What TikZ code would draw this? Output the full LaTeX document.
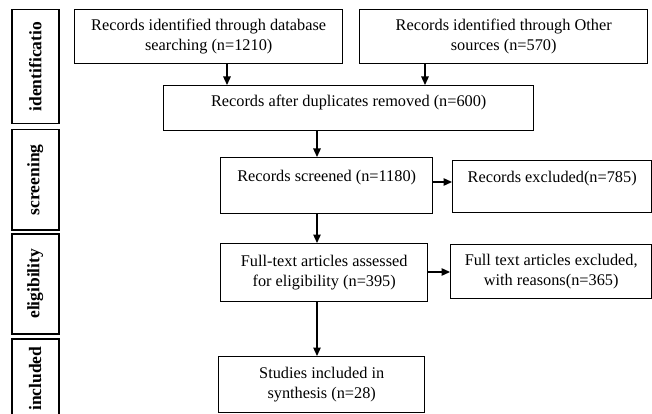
\documentclass[tikz,border=0pt]{standalone}
\usepackage{fontspec}
\setmainfont{Liberation Serif}
\usetikzlibrary{arrows.meta}
\begin{document}
\begin{tikzpicture}[x=1pt,y=-1pt,
  box/.style={draw, line width=1.4pt, inner sep=0pt, anchor=north west, align=center,
    font=\fontsize{16.3}{20}\selectfont},
  phase/.style={draw, line width=1.5pt, inner sep=0pt, anchor=north west,
    minimum width=47pt, font=\bfseries\fontsize{17.5}{20}\selectfont},
  arr/.style={line width=1.3pt, -{Triangle[length=8.5pt,width=7.5pt]}}]
\useasboundingbox (0,0) rectangle (652,414);
% phase labels
\node[phase, minimum height=114pt] (pid) at (11,9) {\rotatebox{90}{identificatio}};
\node[phase, minimum height=100pt] (pscr) at (11,129) {\rotatebox{90}{screening}};
\node[phase, minimum height=100pt] (pel) at (11,233) {\rotatebox{90}{eligibility}};
\node[phase, minimum height=80pt] (pinc) at (11,338) {\rotatebox{90}{included}};
% boxes
\node[box, minimum width=268pt, minimum height=54pt] (db) at (74,9)
  {Records identified through database\\searching (n=1210)};
\node[box, minimum width=288pt, minimum height=54pt] (oth) at (359,9)
  {Records identified through Other\\sources (n=570)};
\node[box, minimum width=370pt, text height=20.5pt, text depth=24.5pt] (dup) at (163,85)
  {Records after duplicates removed (n=600)};
\node[box, minimum width=212pt, text height=23.5pt, text depth=32.5pt] (scr) at (220,157)
  {Records screened (n=1180)};
\node[box, minimum width=199pt, text height=21.5pt, text depth=30.5pt] (exc) at (452,160)
  {Records excluded(n=785)};
\node[box, minimum width=207pt, minimum height=58pt] (ass) at (220,243)
  {Full-text articles assessed\\for eligibility (n=395)};
\node[box, minimum width=201pt, minimum height=54pt] (ftx) at (450,244)
  {Full text articles excluded,\\with reasons(n=365)};
\node[box, minimum width=206pt, minimum height=56pt] (stu) at (218,356)
  {Studies included in\\synthesis (n=28)};
% connector guides
\coordinate (xa) at (227,0);
\coordinate (xb) at (425,0);
\coordinate (xc) at (317,0);
\coordinate (ya) at (0,182);
\coordinate (yb) at (0,272);
% connectors
\draw[arr] (db.south -| xa) -- (dup.north -| xa);
\draw[arr] (oth.south -| xb) -- (dup.north -| xb);
\draw[arr] (dup.south -| xc) -- (scr.north -| xc);
\draw[arr] (scr.south -| xc) -- (ass.north -| xc);
\draw[arr] (ass.south -| xc) -- (stu.north -| xc);
\draw[arr] (scr.east |- ya) -- (exc.west |- ya);
\draw[arr] (ass.east |- yb) -- (ftx.west |- yb);
\end{tikzpicture}
\end{document}
